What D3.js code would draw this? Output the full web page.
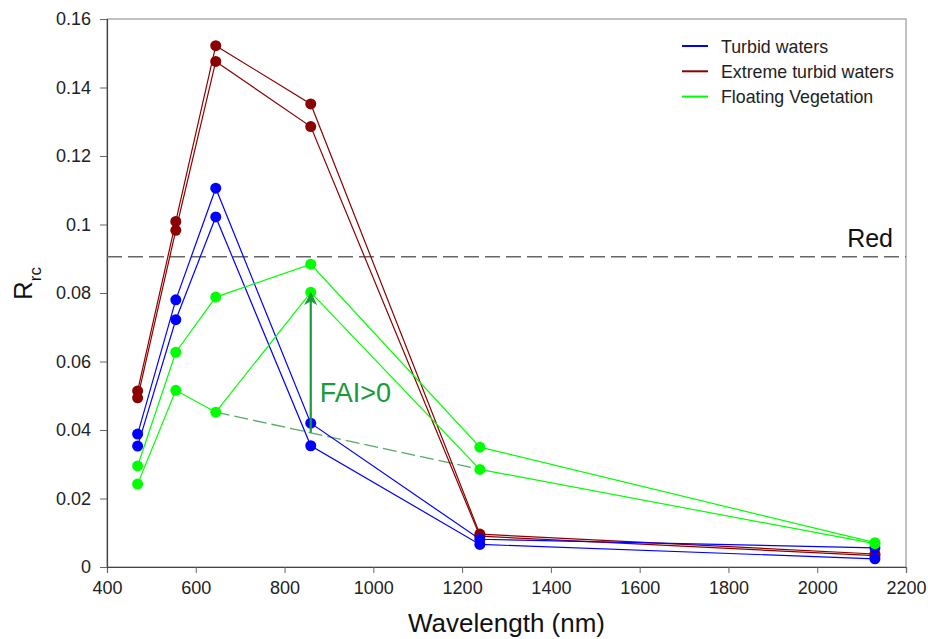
<!DOCTYPE html>
<html>
<head>
<meta charset="utf-8">
<script src="https://cdn.jsdelivr.net/npm/d3@7.9.0/dist/d3.min.js"></script>
<style>
  body { margin: 0; background: #fff; }
  svg { display: block; font-family: Arial, "Liberation Sans", sans-serif; }
</style>
</head>
<body>
<div id="chart"></div>
<script>
// MODIS band centres (nm)
const wavelengths = [469, 555, 645, 859, 1240, 2130];

const turbidA  = [0.0388, 0.0780, 0.1106, 0.0420, 0.0081, 0.0056];
const turbidB  = [0.0353, 0.0722, 0.1022, 0.0354, 0.0066, 0.0024];
const extremeA = [0.0514, 0.1009, 0.1522, 0.1352, 0.0096, 0.0038];
const extremeB = [0.0494, 0.0983, 0.1476, 0.1286, 0.0090, 0.0033];
const vegA     = [0.0295, 0.0627, 0.0788, 0.0884, 0.0350, 0.0071];
const vegB     = [0.0242, 0.0516, 0.0452, 0.0802, 0.0285, 0.0068];

const xTicks = [400, 600, 800, 1000, 1200, 1400, 1600, 1800, 2000, 2200];
const yTicks = [0, 0.02, 0.04, 0.06, 0.08, 0.1, 0.12, 0.14, 0.16];

const redLevel = 0.0906;
const legendNames = ["Turbid waters", "Extreme turbid waters", "Floating Vegetation"];

const width = 928, height = 639;
const margin = {top: 19, right: 22, bottom: 72, left: 107};

const blue = "#0000ff", darkRed = "#8b0000", lime = "#00ff00", faiGreen = "#1a9a3a";

const series = [
    {values: extremeA, color: darkRed},
    {values: extremeB, color: darkRed},
    {values: turbidA, color: blue},
    {values: turbidB, color: blue},
    {values: vegA, color: lime},
    {values: vegB, color: lime}
];

const x = d3.scaleLinear()
    .domain([400, 2200])
    .range([margin.left, width - margin.right]);

const y = d3.scaleLinear()
    .domain([0, 0.16])
    .range([height - margin.bottom, margin.top]);

const svg = d3.select("#chart").append("svg")
    .attr("width", width)
    .attr("height", height);

// frame (top / right)
svg.append("rect")
    .attr("x", x(400))
    .attr("y", y(0.16))
    .attr("width", x(2200) - x(400))
    .attr("height", y(0) - y(0.16))
    .attr("fill", "none")
    .attr("stroke", "#999")
    .attr("stroke-width", 1.2);

const xAxis = svg.append("g")
    .attr("transform", `translate(0,${y(0)})`)
    .call(d3.axisBottom(x).tickValues(xTicks).tickSizeOuter(0).tickSize(6).tickPadding(8).tickFormat(d3.format("d")));

const yAxis = svg.append("g")
    .attr("transform", `translate(${x(400)},0)`)
    .call(d3.axisLeft(y).tickValues(yTicks).tickSizeOuter(0).tickSize(7).tickPadding(9)
        .tickFormat(d => d === 0 ? "0" : String(+d.toFixed(2))));

[xAxis, yAxis].forEach(g => {
    g.select(".domain").attr("stroke", "#444").attr("stroke-width", 1.2);
    g.selectAll(".tick line").attr("stroke", "#666");
    g.selectAll(".tick text")
        .attr("fill", "#222")
        .style("font-size", "18px")
        .style("font-family", "Arial, 'Liberation Sans', sans-serif");
});

// "Red" reference level
svg.append("line")
    .attr("x1", x(400))
    .attr("x2", x(2200))
    .attr("y1", y(redLevel))
    .attr("y2", y(redLevel))
    .attr("stroke", "#666")
    .attr("stroke-width", 1.6)
    .attr("stroke-dasharray", "15,6");

svg.append("text")
    .attr("x", x(2200) - 13)
    .attr("y", y(redLevel) - 10)
    .attr("text-anchor", "end")
    .attr("fill", "#111")
    .style("font-size", "25px")
    .text("Red");

// FAI baseline between 645 and 1240 nm of floating vegetation
const baseIdx = [2, 4];
const baseLine = baseIdx.map(i => ({w: wavelengths[i], v: vegB[i]}));
const w859 = wavelengths[3];
const baseAt859 = baseLine[0].v + (baseLine[1].v - baseLine[0].v) * (w859 - baseLine[0].w) / (baseLine[1].w - baseLine[0].w);

svg.append("line")
    .attr("x1", x(baseLine[0].w))
    .attr("y1", y(baseLine[0].v))
    .attr("x2", x(baseLine[1].w))
    .attr("y2", y(baseLine[1].v))
    .attr("stroke", "#3a9a50")
    .attr("stroke-opacity", 0.85)
    .attr("stroke-width", 1.3)
    .attr("stroke-dasharray", "14,5");

const line = d3.line()
    .x((d, i) => x(wavelengths[i]))
    .y(d => y(d));

series.forEach(s => {
    svg.append("path")
        .attr("d", line(s.values))
        .attr("fill", "none")
        .attr("stroke", s.color)
        .attr("stroke-width", 1.2);
    svg.selectAll(null)
        .data(s.values)
        .enter()
        .append("circle")
        .attr("cx", (d, i) => x(wavelengths[i]))
        .attr("cy", d => y(d))
        .attr("r", 5.5)
        .attr("fill", s.color);
});

// FAI arrow
svg.append("defs").append("marker")
    .attr("id", "head")
    .attr("viewBox", "0 0 10 10")
    .attr("refX", 9)
    .attr("refY", 5)
    .attr("markerWidth", 6)
    .attr("markerHeight", 6)
    .attr("markerUnits", "strokeWidth")
    .attr("orient", "auto")
    .append("path")
    .attr("d", "M0,0 L10,5 L0,10 L3,5 Z")
    .attr("fill", faiGreen);

svg.append("line")
    .attr("x1", x(w859))
    .attr("y1", y(baseAt859))
    .attr("x2", x(w859))
    .attr("y2", y(vegB[3]) + 1)
    .attr("stroke", faiGreen)
    .attr("stroke-width", 2.2)
    .attr("marker-end", "url(#head)");

svg.append("text")
    .attr("x", x(w859) + 9)
    .attr("y", 402)
    .attr("fill", faiGreen)
    .style("font-size", "27px")
    .text("FAI>0");

// legend
const legend = svg.selectAll(".legend")
    .data(legendNames)
    .enter()
    .append("g")
    .attr("transform", (d, i) => `translate(682,${46 + i * 25.3})`);

legend.append("line")
    .attr("x1", 0)
    .attr("x2", 26)
    .attr("stroke", (d, i) => [blue, darkRed, lime][i])
    .attr("stroke-width", 2);

legend.append("text")
    .attr("x", 39)
    .attr("y", 6.5)
    .attr("fill", "#222")
    .style("font-size", "17.8px")
    .text(d => d);

// axis titles
svg.append("text")
    .attr("x", (x(400) + x(2200)) / 2)
    .attr("y", 632)
    .attr("text-anchor", "middle")
    .attr("fill", "#111")
    .style("font-size", "26px")
    .text("Wavelength (nm)");

const yTitle = svg.append("text")
    .attr("transform", "translate(32,300) rotate(-90)")
    .attr("fill", "#111")
    .style("font-size", "26px");
yTitle.append("tspan").text("R");
yTitle.append("tspan")
    .attr("dy", 9)
    .style("font-size", "17px")
    .text("rc");
</script>
</body>
</html>
